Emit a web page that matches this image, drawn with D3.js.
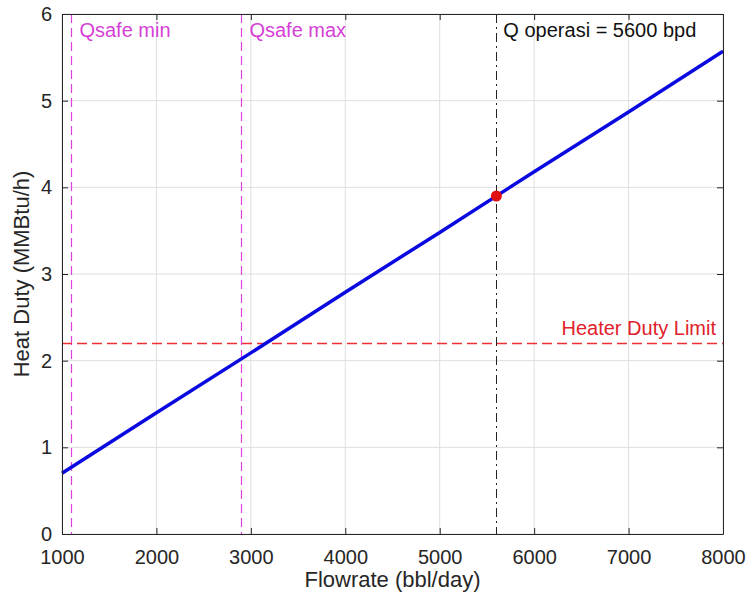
<!DOCTYPE html>
<html>
<head>
<meta charset="utf-8">
<script src="https://cdn.jsdelivr.net/npm/d3@7"></script>
<style>
  body { margin: 0; background: #fff; }
  text { font-family: "Liberation Sans", Arial, sans-serif; }
</style>
</head>
<body>
<div id="chart"></div>
<script>
// Data
var flowrate = [1000, 2000, 3000, 4000, 5000, 6000, 7000, 8000];
var heatDuty = [0.70, 1.40, 2.09, 2.79, 3.48, 4.18, 4.87, 5.57];
var xTicks = [1000, 2000, 3000, 4000, 5000, 6000, 7000, 8000];
var yTicks = [0, 1, 2, 3, 4, 5, 6];
var qSafeMin = 1100;
var qSafeMax = 2900;
var qOperasi = 5600;
var qOperasiDuty = 3.90;
var heaterLimit = 2.2;

// Chart size
var width = 748, height = 598;
var margin = { top: 14, right: 25, bottom: 64, left: 62 };
var innerW = width - margin.left - margin.right;
var innerH = height - margin.top - margin.bottom;

var svg = d3.select("#chart").append("svg")
    .attr("width", width)
    .attr("height", height);

var g = svg.append("g")
    .attr("transform", "translate(" + margin.left + "," + margin.top + ")");

var x = d3.scaleLinear().domain([1000, 8000]).range([0, innerW]);
var y = d3.scaleLinear().domain([0, 6]).range([innerH, 0]);

// grid
g.append("g").selectAll("line").data(xTicks).enter().append("line")
    .attr("x1", function (d) { return x(d); }).attr("x2", function (d) { return x(d); })
    .attr("y1", 0).attr("y2", innerH)
    .attr("stroke", "#dedede").attr("stroke-width", 1);
g.append("g").selectAll("line").data(yTicks).enter().append("line")
    .attr("y1", function (d) { return y(d); }).attr("y2", function (d) { return y(d); })
    .attr("x1", 0).attr("x2", innerW)
    .attr("stroke", "#dedede").attr("stroke-width", 1);

// reference lines
var refs = g.append("g");
refs.append("line")
    .attr("x1", Math.round(x(qSafeMin)) + 0.5).attr("x2", Math.round(x(qSafeMin)) + 0.5).attr("y1", 0).attr("y2", innerH)
    .attr("stroke", "#e040e0").attr("stroke-width", 1.2).attr("stroke-dasharray", "9,5");
refs.append("line")
    .attr("x1", Math.round(x(qSafeMax)) + 0.5).attr("x2", Math.round(x(qSafeMax)) + 0.5).attr("y1", 0).attr("y2", innerH)
    .attr("stroke", "#e040e0").attr("stroke-width", 1.2).attr("stroke-dasharray", "9,5");
refs.append("line")
    .attr("x1", Math.round(x(qOperasi)) + 0.5).attr("x2", Math.round(x(qOperasi)) + 0.5).attr("y1", 0).attr("y2", innerH)
    .attr("stroke", "#222").attr("stroke-width", 1).attr("stroke-dasharray", "9,4,2,4");
refs.append("line")
    .attr("x1", 0).attr("x2", innerW)
    .attr("y1", Math.round(y(heaterLimit)) + 0.5).attr("y2", Math.round(y(heaterLimit)) + 0.5)
    .attr("stroke", "#ee3036").attr("stroke-width", 1.4).attr("stroke-dasharray", "10,5");

// main line
var line = d3.line()
    .x(function (d, i) { return x(flowrate[i]); })
    .y(function (d) { return y(d); });
g.append("path")
    .datum(heatDuty)
    .attr("d", line)
    .attr("fill", "none")
    .attr("stroke", "#0a0ae0")
    .attr("stroke-width", 3.5);

// operating point
g.append("circle")
    .attr("cx", x(qOperasi)).attr("cy", y(qOperasiDuty)).attr("r", 5.5)
    .attr("fill", "#e01010");

// axes (MATLAB style, ticks inside, box on)
var axisColor = "#262626";
var tickLen = 6;
var xAxis = d3.axisBottom(x).tickValues(xTicks).tickFormat(d3.format("d"))
    .tickSizeInner(-tickLen).tickSizeOuter(0).tickPadding(16);
var yAxis = d3.axisLeft(y).tickValues(yTicks).tickFormat(d3.format("d"))
    .tickSizeInner(-tickLen).tickSizeOuter(0).tickPadding(10);
var xTop = d3.axisTop(x).tickValues(xTicks).tickSizeInner(-tickLen).tickSizeOuter(0).tickFormat("");
var yRight = d3.axisRight(y).tickValues(yTicks).tickSizeInner(-tickLen).tickSizeOuter(0).tickFormat("");

function style(sel) {
    sel.select(".domain").attr("stroke", axisColor);
    sel.selectAll(".tick line").attr("stroke", axisColor);
    sel.selectAll(".tick text").attr("fill", "#262626").style("font-size", "20px")
        .style("font-family", "Liberation Sans, Arial, sans-serif");
}

g.append("g").attr("transform", "translate(0," + innerH + ")").call(xAxis).call(style);
g.append("g").call(yAxis).call(style);
g.append("g").call(xTop).call(style);
g.append("g").attr("transform", "translate(" + innerW + ",0)").call(yRight).call(style);

// annotations
g.append("text").attr("x", x(qSafeMin) + 8).attr("y", 23)
    .attr("fill", "#d63fd6").style("font-size", "20px").text("Qsafe min");
g.append("text").attr("x", x(qSafeMax) + 8).attr("y", 23)
    .attr("fill", "#d63fd6").style("font-size", "20px").text("Qsafe max");
g.append("text").attr("x", x(qOperasi) + 7).attr("y", 23)
    .attr("fill", "#111").style("font-size", "20px").text("Q operasi = 5600 bpd");
g.append("text").attr("x", innerW - 7).attr("y", y(heaterLimit) - 8)
    .attr("text-anchor", "end")
    .attr("fill", "#e0202a").style("font-size", "20px").text("Heater Duty Limit");

// axis titles
svg.append("text")
    .attr("x", margin.left + innerW / 2).attr("y", 587)
    .attr("text-anchor", "middle").attr("fill", "#262626").style("font-size", "22px")
    .text("Flowrate (bbl/day)");
svg.append("text")
    .attr("transform", "translate(29," + (margin.top + innerH / 2) + ") rotate(-90)")
    .attr("text-anchor", "middle").attr("fill", "#262626").style("font-size", "22px")
    .text("Heat Duty (MMBtu/h)");
</script>
</body>
</html>
